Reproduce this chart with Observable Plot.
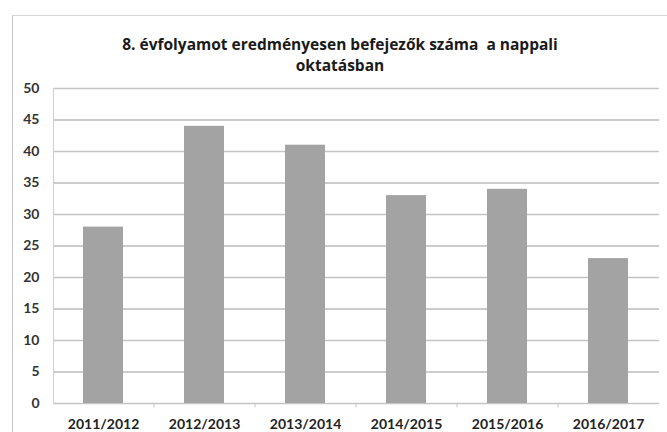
<!DOCTYPE html>
<html>
<head>
<meta charset="utf-8">
<script src="https://cdn.jsdelivr.net/npm/d3@7"></script>
<script src="https://cdn.jsdelivr.net/npm/@observablehq/plot@0.6"></script>
<style>
  html, body { margin: 0; padding: 0; background: #fff; width: 667px; height: 432px; overflow: hidden; }
  #frame { position: absolute; left: 12px; top: 15px; width: 660px; height: 430px;
           border-left: 1px solid #c8c8c8; border-top: 1px solid #d4d4d4; }
  #title { position: absolute; left: 0; top: 34px; width: 680px; text-align: center;
           font-family: "Open Sans", Lato, sans-serif; font-weight: bold; font-size: 15.5px;
           line-height: 21px; color: #1a1a1a; }
  #chart { position: absolute; left: 0; top: 75px; }
</style>
</head>
<body>
<div id="frame"></div>
<div id="title">8. évfolyamot eredményesen befejezők száma&nbsp; a nappali<br>oktatásban</div>
<div id="chart"></div>
<script>
const years = ["2011/2012", "2012/2013", "2013/2014", "2014/2015", "2015/2016", "2016/2017"];
const counts = [28, 44, 41, 33, 34, 23];
const yTicks = [0, 5, 10, 15, 20, 25, 30, 35, 40, 45, 50];

const data = years.map((y, i) => ({year: y, count: counts[i]}));

const W = 667, ML = 53, MR = 8;
const step = (W - ML - MR) / years.length;

const chart = Plot.plot({
  width: W,
  height: 357,
  marginLeft: ML,
  marginRight: MR,
  marginTop: 13,
  marginBottom: 29,
  style: {fontFamily: "Lato, 'Open Sans', sans-serif", fontSize: "13px", color: "#222", background: "transparent"},
  x: {domain: years, paddingInner: 0.6, paddingOuter: 0.3, label: null},
  y: {domain: [0, 50], ticks: yTicks, label: null},
  marks: [
    Plot.gridY(yTicks, {stroke: "#c4c4c4", strokeOpacity: 1, strokeWidth: 1.3}),
    Plot.tickY(yTicks, {x1: -6, x2: 0, stroke: "#c4c4c4"}),
    Plot.ruleX(years.slice(1), {x: d => d, dx: -step / 2, y1: 0, y2: -0.7, stroke: "#c4c4c4"}),
    Plot.frame({anchor: "left", stroke: "#cfcfcf"}),
    Plot.barY(data, {x: "year", y: "count", fill: "#a3a3a3"}),
    Plot.axisY(yTicks, {tickSize: 0, tickPadding: 14, fontSize: 14, fontWeight: "bold", fill: "#333"}),
    Plot.axisX({tickSize: 0, tickPadding: 16, fontSize: 14, fontWeight: "bold", fill: "#222"})
  ]
});
document.getElementById("chart").appendChild(chart);
</script>
</body>
</html>
